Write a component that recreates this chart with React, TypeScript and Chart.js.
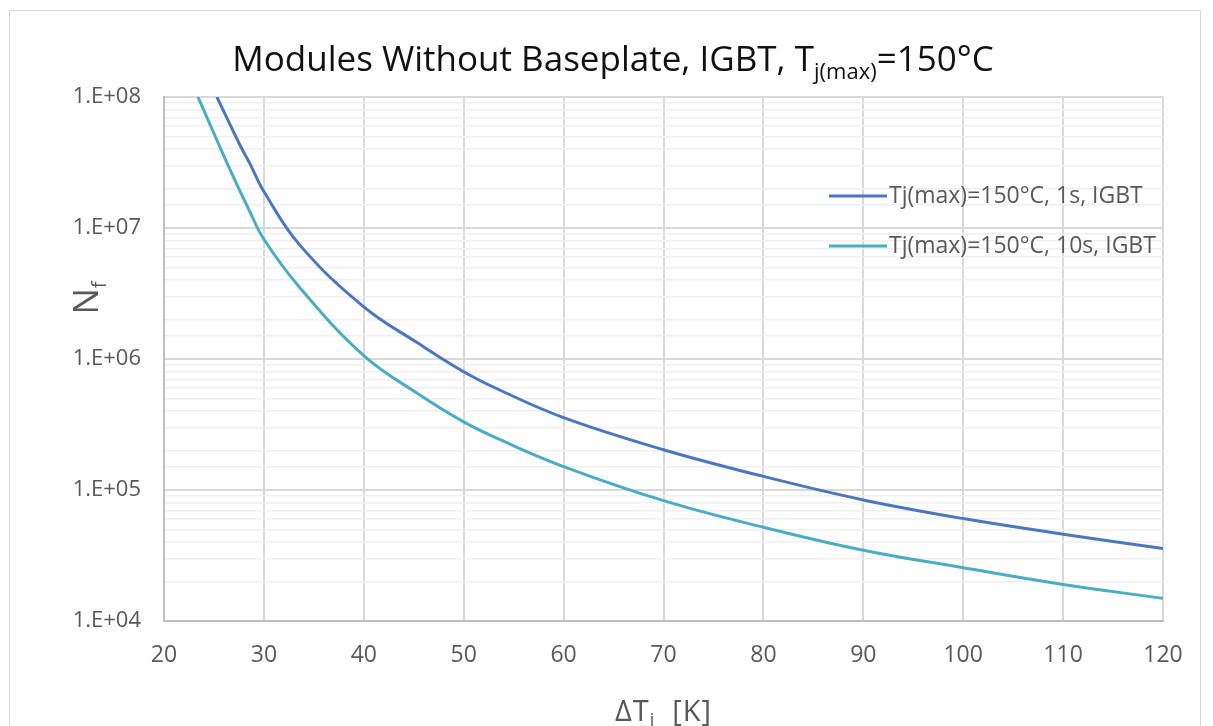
import React, { useEffect, useRef } from 'react';
import { Chart, registerables } from 'chart.js';

Chart.register(...registerables);

// ---- Data ----
const seriesLabels = ['Tj(max)=150°C, 1s, IGBT', 'Tj(max)=150°C, 10s, IGBT'];
const seriesColors = ['#4a77c0', '#4bacc6'];

const dT_1s = [25.3, 27.6, 28.6, 30, 33.6, 40, 45.3, 50, 53.6, 60, 70, 80, 90, 100, 110, 120];
const nf_1s = [1.0e8, 4.3e7, 3.1e7, 1.9e7, 7.4e6, 2.5e6, 1.34e6, 8.0e5, 5.8e5, 3.57e5, 2.03e5, 1.27e5, 8.4e4, 6.05e4, 4.6e4, 3.57e4];

const dT_10s = [23.4, 26.6, 28.6, 30, 33.6, 40, 45.3, 50, 53.6, 60, 70, 80, 90, 100, 110, 120];
const nf_10s = [1.0e8, 2.8e7, 1.33e7, 8.2e6, 3.5e6, 1.06e6, 5.5e5, 3.31e5, 2.43e5, 1.51e5, 8.3e4, 5.2e4, 3.47e4, 2.55e4, 1.9e4, 1.49e4];

const xMin = 20;
const xMax = 120;
const xStep = 10;
const yMajorTicks = [1e4, 1e5, 1e6, 1e7, 1e8];
const yTickLabels = ['1.E+04', '1.E+05', '1.E+06', '1.E+07', '1.E+08'];

const titleMain = 'Modules Without Baseplate, IGBT, T';
const titleSub = 'j(max)';
const titleEnd = '=150°C';
const xTitleMain = 'ΔT';
const xTitleSub = 'j';
const xTitleEnd = '  [K]';
const yTitleMain = 'N';
const yTitleSub = 'f';

const FONT = '"Open Sans", "DejaVu Sans", sans-serif';

function isMajor(v: number) {
  return yMajorTicks.some((t) => Math.abs(t - v) / t < 1e-9);
}

type Run = { text: string; size: number; dy: number };

function drawRuns(
  ctx: CanvasRenderingContext2D,
  runs: Run[],
  cx: number,
  baseY: number,
  color: string,
  spacing = 0
) {
  (ctx as any).letterSpacing = `${spacing}px`;
  let total = 0;
  const widths = runs.map((r) => {
    ctx.font = `${r.size}px ${FONT}`;
    const w = ctx.measureText(r.text).width;
    total += w;
    return w;
  });
  let x = cx - total / 2;
  ctx.fillStyle = color;
  ctx.textAlign = 'left';
  ctx.textBaseline = 'alphabetic';
  runs.forEach((r, i) => {
    ctx.font = `${r.size}px ${FONT}`;
    ctx.fillText(r.text, x, baseY + r.dy);
    x += widths[i];
  });
  (ctx as any).letterSpacing = '0px';
}

const textPlugin = {
  id: 'customTexts',
  afterDraw(chart: any) {
    const ctx: CanvasRenderingContext2D = chart.ctx;
    const area = chart.chartArea;
    ctx.save();
    // Title
    drawRuns(
      ctx,
      [
        { text: titleMain, size: 35, dy: 0 },
        { text: titleSub, size: 22, dy: 8 },
        { text: titleEnd, size: 35, dy: 0 },
      ],
      603,
      60,
      '#111111'
    );
    // X axis title
    drawRuns(
      ctx,
      [
        { text: xTitleMain, size: 29, dy: 0 },
        { text: xTitleSub, size: 18, dy: 5 },
        { text: xTitleEnd, size: 29, dy: 0 },
      ],
      (area.left + area.right) / 2,
      710,
      '#595959',
      1
    );
    // Y axis title (rotated)
    ctx.save();
    ctx.translate(88, 287);
    ctx.rotate(-Math.PI / 2);
    drawRuns(
      ctx,
      [
        { text: yTitleMain, size: 35, dy: 0 },
        { text: yTitleSub, size: 20, dy: 8 },
      ],
      0,
      0,
      '#595959'
    );
    ctx.restore();
    // Legend
    const legendY = [185, 235];
    seriesLabels.forEach((label, i) => {
      ctx.strokeStyle = seriesColors[i];
      ctx.lineWidth = 3;
      ctx.beginPath();
      ctx.moveTo(819, legendY[i]);
      ctx.lineTo(877, legendY[i]);
      ctx.stroke();
      ctx.font = `23px ${FONT}`;
      ctx.fillStyle = '#595959';
      ctx.textAlign = 'left';
      ctx.textBaseline = 'middle';
      ctx.fillText(label, 879, legendY[i]);
    });
    ctx.restore();
  },
};

export default function App() {
  const canvasRef = useRef<HTMLCanvasElement | null>(null);

  useEffect(() => {
    const canvas = canvasRef.current;
    if (!canvas) return;
    const chart = new Chart(canvas, {
      type: 'line',
      data: {
        datasets: [
          {
            label: seriesLabels[0],
            data: dT_1s.map((x, i) => ({ x, y: nf_1s[i] })),
            borderColor: seriesColors[0],
            backgroundColor: seriesColors[0],
            borderWidth: 3,
            pointRadius: 0,
            tension: 0.4,
            fill: false,
          },
          {
            label: seriesLabels[1],
            data: dT_10s.map((x, i) => ({ x, y: nf_10s[i] })),
            borderColor: seriesColors[1],
            backgroundColor: seriesColors[1],
            borderWidth: 3,
            pointRadius: 0,
            tension: 0.4,
            fill: false,
          },
        ],
      },
      options: {
        animation: false,
        responsive: false,
        devicePixelRatio: 1,
        layout: { padding: { left: 0, top: 86, right: 37, bottom: 0 } },
        plugins: {
          legend: { display: false },
          title: { display: false },
          tooltip: { enabled: false },
        },
        scales: {
          x: {
            type: 'linear',
            min: xMin,
            max: xMax,
            afterFit: (s: any) => {
              s.height = 105;
              s.paddingLeft = 0;
              s.paddingRight = 0;
            },
            ticks: {
              stepSize: xStep,
              padding: 21,
              color: '#595959',
              font: { family: FONT, size: 23 },
              maxRotation: 0,
            },
            grid: { color: '#d9d9d9', lineWidth: 2, drawTicks: false },
            border: { color: '#bfbfbf', width: 2 },
          },
          y: {
            type: 'logarithmic',
            min: yMajorTicks[0],
            max: yMajorTicks[yMajorTicks.length - 1],
            afterFit: (s: any) => {
              s.width = 154;
              s.paddingTop = 0;
              s.paddingBottom = 0;
            },
            ticks: {
              autoSkip: false,
              padding: 23,
              color: '#595959',
              font: { family: FONT, size: 22 },
              callback: (v: any) => {
                const idx = yMajorTicks.findIndex((t) => Math.abs(t - v) / t < 1e-9);
                return idx >= 0 ? yTickLabels[idx] : '';
              },
            },
            grid: {
              drawTicks: false,
              color: (c: any) => (isMajor(c.tick.value) ? '#d9d9d9' : '#f0f0f0'),
              lineWidth: (c: any) => (isMajor(c.tick.value) ? 2 : 1.5),
            },
            border: { color: '#bfbfbf', width: 2 },
          },
        },
      } as any,
      plugins: [textPlugin],
    });
    return () => chart.destroy();
  }, []);

  return (
    <div style={{ position: 'fixed', left: 0, top: 0, width: 1213, height: 726, overflow: 'hidden', background: '#fff' }}>
      <div
        style={{
          position: 'absolute',
          left: 9,
          top: 10,
          width: 1190,
          height: 740,
          border: '1px solid #d9d9d9',
          background: '#fff',
        }}
      >
        <canvas ref={canvasRef} width={1190} height={715} style={{ display: 'block', width: 1190, height: 715 }} />
      </div>
    </div>
  );
}
